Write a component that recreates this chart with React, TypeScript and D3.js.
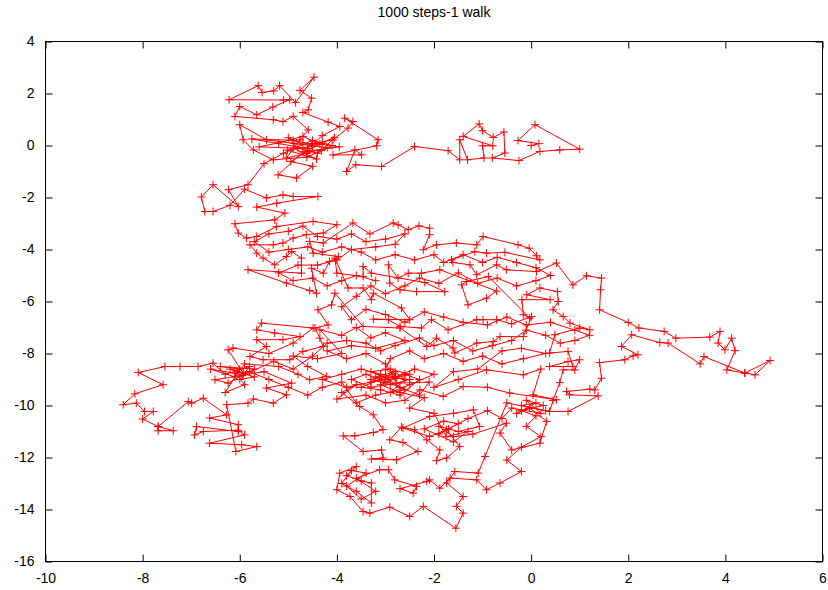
import React, { useEffect, useRef } from 'react';
import * as d3 from 'd3';

const title = '1000 steps-1 walk';
const xTicks = [-10, -8, -6, -4, -2, 0, 2, 4, 6];
const yTicks = [4, 2, 0, -2, -4, -6, -8, -10, -12, -14, -16];

// walk positions, in walk order
const walkNorth: [number, number][] = [
  [0, 0], [0.16, 0.07], [-0.27, 0.19], [0.08, 0.8], [1.0, -0.14], [0.59, -0.17], [0.18, -0.23], [-0.25, -0.58],
  [-0.8, -0.48], [-0.54, -0.29], [-0.56, 0.52], [-0.78, 0.31], [-1.0, 0.57], [-1.07, 0.83], [-1.4, 0.35], [-0.79, -0.01],
  [-1.0, -0.01], [-0.97, -0.48], [-1.31, -0.55], [-1.47, 0.22], [-1.47, -0.55], [-1.71, -0.2], [-2.4, -0.04], [-3.08, -0.81],
  [-3.61, -0.74], [-3.8, -1.0], [-3.63, -0.17], [-3.49, -0.36], [-4.08, -0.36], [-3.18, -0.01], [-3.15, 0.22], [-3.84, 1.05],
  [-3.67, 0.92], [-3.77, 0.67], [-4.08, 0.22], [-4.52, 0.05], [-4.9, 0.2], [-5.75, 0.25], [-4.6, -0.12], [-4.3, 0.38],
  [-3.94, 0.73], [-4.18, 0.9], [-4.7, 1.27], [-4.59, 1.37], [-4.52, 1.82], [-4.76, 2.12], [-4.47, 2.63], [-4.85, 1.65],
  [-5.18, 2.3], [-5.3, 2.1], [-5.54, 2.04], [-5.62, 2.3], [-6.22, 1.76], [-5.1, 1.75], [-4.97, 1.76], [-5.32, 1.48],
  [-5.65, 1.18], [-6.0, 1.5], [-6.1, 1.12], [-5.31, 0.99], [-5.11, 0.92], [-4.9, 1.12], [-4.59, 0.6], [-4.76, 0.22],
  [-5.04, -0.48], [-4.62, -0.3], [-4.2, -0.08], [-4.88, 0.08], [-5.45, 0.22], [-6.0, 0.8], [-5.93, 0.22], [-5.72, -0.17],
  [-5.31, -0.55], [-4.62, -0.45], [-4.32, -0.2], [-4.05, 0.3], [-4.5, -0.02], [-5.02, -0.18], [-4.42, -0.52], [-4.9, -0.1],
  [-5.6, -0.05], [-5.2, 0.1], [-4.7, 0.35], [-4.35, 0.05], [-3.95, -0.05], [-4.7, -0.25], [-5.21, -1.13], [-4.83, -1.25],
  [-4.5, -0.8], [-4.95, -0.62], [-4.6, -0.2], [-4.3, 0.1], [-4.7, 0.05], [-5.0, 0.3], [-4.8, -0.1], [-4.4, -0.3],
  [-4.1, 0.0], [-4.5, 0.2], [-5.1, -0.3], [-5.5, -0.7], [-5.83, -1.51], [-6.23, -1.7], [-6.03, -2.35], [-6.55, -1.51],
  [-6.79, -1.98], [-6.72, -2.54], [-6.55, -2.54], [-6.2, -2.3], [-5.9, -1.68], [-5.45, -2.02], [-5.11, -1.9], [-4.9, -1.96],
  [-4.39, -1.96], [-5.24, -2.22], [-5.65, -2.37], [-5.07, -2.6], [-5.28, -2.86], [-6.1, -3.01],
];

const walkUpper: [number, number][] = [
  [-6.03, -3.37], [-5.86, -3.56], [-5.65, -3.5], [-5.24, -3.12], [-4.49, -2.92], [-4.0, -3.05], [-4.28, -3.37], [-4.63, -3.43],
  [-4.9, -3.56], [-5.11, -3.75], [-5.31, -3.82], [-5.79, -3.82], [-5.65, -4.14], [-5.52, -4.33], [-5.28, -4.59], [-5.04, -4.27],
  [-4.93, -4.08], [-4.73, -4.33], [-4.73, -4.91], [-5.83, -4.78], [-5.04, -5.29], [-4.56, -5.58], [-4.42, -5.68], [-4.52, -4.72],
  [-4.28, -4.91], [-4.15, -4.46], [-3.97, -4.27], [-4.49, -4.14], [-4.56, -3.69], [-4.28, -3.75], [-3.67, -2.98], [-3.32, -3.4],
  [-2.84, -2.98], [-2.74, -3.05], [-2.53, -3.24], [-2.31, -3.09], [-2.09, -3.18], [-2.09, -3.43], [-2.22, -4.01], [-1.95, -3.82],
  [-1.54, -3.75], [-1.12, -3.82], [-0.99, -3.5], [-0.27, -3.82], [-0.04, -3.95], [0.11, -4.24], [0.18, -4.4], [-0.54, -4.11],
  [-0.92, -4.14], [-1.16, -4.08], [-1.64, -4.4], [-1.61, -4.5], [-1.26, -4.59], [-1.12, -4.97], [-0.71, -4.59], [-0.51, -4.78],
  [0.11, -4.85], [0.52, -4.52], [0.86, -5.36], [1.14, -5.01], [1.45, -5.1], [1.43, -5.55], [1.41, -6.32],
  [2.0, -6.81], [2.22, -7.02], [2.74, -7.15], [2.98, -7.41], [3.68, -7.37], [3.89, -7.15], [3.85, -7.6], [3.99, -7.86],
  [4.13, -7.41], [4.2, -7.89], [4.03, -8.63], [4.4, -8.75], [4.61, -8.82], [4.92, -8.27], [4.4, -8.75], [3.56, -8.12],
  [3.48, -8.4], [2.82, -7.6], [2.65, -7.58], [2.07, -7.28], [1.86, -7.73], [2.2, -8.05], [2.1, -8.09], [1.93, -8.24],
  [1.41, -8.35], [1.45, -8.95], [1.31, -9.4], [1.21, -9.37], [0.73, -9.46], [0.79, -9.59], [1.38, -9.63], [0.76, -10.23],
  [0.38, -10.23], [0.45, -9.81], [0.59, -9.12], [0.66, -8.63], [0.9, -8.63], [1.0, -8.24], [0.76, -8.31], [0.38, -8.5],
  [0.86, -8.5], [0.76, -7.92], [0.38, -7.98], [0.49, -7.28], [1.0, -7.02], [1.21, -7.09], [0.8, -6.83], [0.66, -6.58],
  [0.45, -6.32], [0.56, -6.0], [0.54, -5.62], [0.18, -5.48], [-0.09, -5.74], [0.39, -5.93], [-0.19, -5.93], [-0.16, -6.51],
  [-0.03, -6.64], [-0.88, -5.04], [-1.33, -5.23], [-1.43, -5.36], [-1.3, -6.13], [-0.92, -5.87], [-0.71, -5.6], [-1.88, -4.78],
  [-2.26, -4.91], [-2.53, -4.91], [-2.74, -5.1], [-2.94, -4.59], [-2.91, -5.29], [-2.7, -5.55], [-2.36, -5.62], [-1.78, -5.62],
  [-2.19, -5.27], [-3.29, -4.91], [-3.46, -4.65], [-3.46, -5.04], [-4.0, -4.91], [-4.04, -4.33], [-3.77, -5.48], [-3.46, -5.48],
  [-3.29, -5.93], [-3.25, -5.68], [-2.67, -6.25], [-2.5, -6.7], [-3.25, -6.68], [-2.94, -6.7], [-2.7, -6.96], [-2.26, -7.02],
  [-2.05, -6.7], [-1.71, -7.09], [-1.12, -6.7], [-0.99, -6.7], [-0.71, -6.7], [-0.4, -6.86], [0.01, -6.58], [-0.16, -7.35],
  [-0.64, -7.35], [-0.78, -7.54], [-1.12, -7.6], [-1.57, -7.98], [-1.61, -7.79], [-1.95, -7.41], [-2.15, -7.73], [-2.7, -7.02],
  [-3.46, -6.96], [-4.04, -5.68], [-4.11, -6.13], [-4.39, -6.32], [-4.18, -6.9], [-4.45, -7.02], [-4.35, -7.41], [-4.28, -7.73],
];

const walkCentral: [number, number][] = [
  [-4.7, -7.92], [-4.97, -8.24], [-5.52, -8.24], [-5.79, -8.12], [-5.45, -7.73], [-5.65, -7.47], [-5.11, -7.47], [-4.76, -7.35],
  [-5.28, -7.21], [-5.65, -7.09], [-5.55, -6.83], [-4.49, -7.02], [-4.9, -7.6], [-5.4, -8.0], [-6.14, -7.79], [-6.24, -7.86],
  [-5.93, -8.75], [-6.2, -8.6], [-5.7, -8.9], [-6.0, -9.0], [-5.8, -8.5], [-6.3, -8.8], [-6.55, -8.37], [-6.86, -8.5],
  [-7.23, -8.5], [-7.54, -8.5], [-8.09, -8.73], [-7.58, -9.2], [-8.16, -9.55], [-8.4, -9.97], [-8.13, -9.91], [-7.96, -10.23],
  [-7.78, -10.23], [-8.0, -10.52], [-7.68, -10.81], [-7.68, -10.97], [-7.37, -10.97], [-7.68, -10.81], [-7.06, -9.85], [-6.99, -9.91],
  [-6.75, -9.72], [-6.27, -10.36], [-6.62, -10.48], [-6.03, -10.74], [-6.03, -11.0], [-6.89, -10.81], [-6.93, -11.13], [-6.75, -11.0],
  [-6.03, -10.95], [-5.9, -11.13], [-6.62, -11.45], [-5.96, -11.51], [-5.65, -11.58], [-6.08, -11.77], [-6.27, -9.97], [-5.83, -9.91],
  [-5.72, -9.75], [-5.31, -9.91], [-5.04, -9.59], [-5.45, -9.33], [-4.93, -9.14], [-5.5, -8.7], [-6.51, -9.01], [-6.24, -9.14],
  [-5.93, -8.82], [-6.6, -8.6], [-6.1, -8.9], [-5.9, -8.4], [-5.2, -8.5], [-4.8, -8.8], [-4.56, -9.01], [-4.21, -8.88],
  [-4.6, -8.5], [-4.9, -8.1], [-4.4, -8.2], [-3.9, -8.0], [-4.35, -7.09], [-3.9, -7.3], [-3.6, -7.0], [-3.3, -7.4],
  [-3.0, -7.2], [-2.6, -7.5], [-3.2, -7.8], [-3.7, -7.7], [-4.2, -7.9], [-3.8, -8.2], [-3.4, -8.0], [-3.0, -8.4],
  [-2.8, -8.9], [-3.1, -8.8], [-3.5, -8.6], [-3.9, -8.8], [-4.3, -9.0], [-3.8, -9.3], [-3.3, -9.1], [-2.8, -8.9],
  [-2.4, -8.6], [-2.0, -8.8], [-2.5, -9.2], [-2.9, -9.5], [-2.6, -9.0], [-2.8, -8.7], [-3.2, -8.9], [-2.7, -9.3],
  [-2.3, -9.6], [-2.1, -9.1], [-2.77, -9.14], [-3.3, -9.3], [-3.7, -9.0], [-3.4, -8.8], [-3.0, -9.1], [-2.6, -8.8],
  [-2.3, -9.0], [-2.7, -9.6], [-3.1, -9.4], [-3.5, -9.3], [-3.0, -8.9], [-2.5, -9.0], [-2.9, -9.2], [-3.3, -9.0],
  [-2.85, -8.8], [-3.0, -8.6], [-2.9, -8.2], [-2.5, -7.9], [-2.2, -8.2], [-1.8, -8.0], [-1.4, -8.3], [-1.0, -8.1],
  [-0.6, -8.4], [-0.16, -8.2], [0.3, -8.0], [-0.2, -7.8], [-0.6, -7.9], [-1.1, -8.6], [-1.6, -8.7], [-2.0, -9.3],
  [-1.5, -9.0], [-0.92, -8.63], [-0.16, -8.82], [0.2, -8.6], [0.04, -9.59], [0.52, -9.78], [-0.44, -9.52], [-0.9, -9.3],
  [-1.4, -9.27], [-1.81, -9.65], [-2.29, -9.4], [-2.6, -9.8], [-3.0, -9.9], [-3.4, -9.6], [-4.0, -9.75], [-3.6, -9.2],
  [-3.9, -9.5], [-3.53, -10.04],
];

const walkSouth: [number, number][] = [
  [-3.25, -10.36], [-3.05, -10.93], [-3.25, -11.04], [-3.63, -11.17], [-3.87, -11.17], [-3.46, -11.77], [-3.08, -11.71], [-3.05, -12.02],
  [-3.29, -12.06], [-2.77, -12.09], [-2.33, -11.77], [-2.64, -11.42], [-2.91, -11.32], [-2.67, -10.83], [-2.4, -10.93], [-2.15, -11.32],
  [-1.88, -11.71], [-1.95, -12.12], [-1.74, -12.02], [-1.47, -11.58], [-1.74, -10.93], [-2.09, -11.19], [-2.64, -10.87], [-2.09, -10.42],
  [-1.6, -10.3], [-1.19, -10.17], [-1.06, -10.81], [-1.5, -11.0], [-1.9, -10.8], [-1.6, -11.2], [-1.2, -11.1], [-0.51, -10.68],
  [-0.64, -11.06], [-0.4, -11.71], [0.18, -11.45], [0.32, -10.61], [-0.03, -10.1], [-0.3, -10.3], [0.1, -9.9], [-0.2, -10.0],
  [0.3, -10.2], [-0.5, -9.9], [-0.95, -11.96], [-1.09, -12.6], [-1.57, -12.54], [-1.74, -12.98], [-1.4, -13.5], [-1.54, -13.88],
  [-1.4, -14.14], [-1.55, -14.72], [-2.22, -13.88], [-2.5, -14.27], [-2.91, -13.91], [-3.32, -14.14], [-3.46, -14.08], [-3.73, -13.5],
  [-4.0, -13.24], [-3.94, -12.6], [-3.6, -12.35], [-3.8, -12.7], [-3.5, -12.9], [-3.29, -12.98], [-3.29, -13.75], [-3.6, -13.3],
  [-3.9, -13.0], [-3.7, -12.5], [-3.4, -12.6], [-3.8, -13.1], [-3.5, -13.6], [-3.2, -13.3], [-3.6, -12.8], [-3.12, -12.47],
  [-2.94, -12.47], [-2.81, -12.86], [-2.36, -13.11], [-2.43, -13.37], [-2.7, -13.2], [-2.15, -12.92], [-2.09, -12.86], [-1.88, -13.18],
  [-1.67, -12.79], [-1.12, -12.86], [-0.92, -13.24], [-0.64, -12.98], [-0.2, -12.54],
];

const walkReturn: [number, number][] = [
  [-0.5, -12.1], [-0.2, -11.6], [0.2, -11.2], [-0.1, -10.8], [0.1, -10.4], [-0.2, -10.2], [0.25, -10.0], [-0.1, -9.8],
  [0.2, -10.3], [-0.4, -10.1], [-0.6, -10.5], [-0.9, -10.2], [-1.3, -10.5], [-1.7, -10.9], [-1.9, -11.1], [-1.5, -10.7],
  [-1.8, -10.6], [-2.2, -10.9], [-1.6, -11.4], [-1.3, -11.0], [-1.75, -11.2], [-2.0, -10.3], [-2.5, -10.1], [-2.2, -9.7],
  [-2.7, -9.5], [-3.1, -9.2], [-2.8, -8.95], [-2.5, -8.8], [-2.9, -8.6], [-3.3, -8.7], [-2.95, -9.0], [-2.6, -9.4],
  [-3.2, -9.6], [-3.6, -9.9], [-3.9, -9.1], [-4.3, -9.3], [-4.6, -9.6], [-5.0, -9.3], [-5.4, -9.0], [-5.8, -8.7],
  [-6.1, -8.75], [-5.9, -9.2], [-6.3, -9.5], [-6.0, -8.6], [-6.4, -8.5], [-5.7, -8.6], [-5.95, -8.85], [-5.3, -8.3],
  [-4.9, -8.6], [-4.5, -8.1], [-4.2, -7.6], [-3.8, -7.5], [-3.4, -7.6], [-3.1, -7.9], [-2.8, -7.7], [-2.3, -7.4],
  [-2.0, -7.7], [-1.6, -7.5], [-1.2, -7.9], [-0.8, -7.7], [-0.4, -7.5], [-0.1, -7.1], [0.3, -7.3], [0.6, -7.6],
  [0.9, -7.5], [1.2, -7.3], [0.9, -7.1], [0.4, -6.8], [-0.1, -6.9], [-0.5, -6.6], [-0.9, -6.9], [-1.4, -6.8],
  [-1.8, -6.6], [-2.2, -6.4], [-2.6, -6.8], [-3.0, -6.5], [-3.4, -6.3], [-3.7, -6.7], [-3.9, -6.2], [-3.6, -5.8],
  [-3.3, -5.4], [-3.0, -5.7], [-2.6, -5.4], [-2.3, -5.1], [-1.9, -5.3], [-1.5, -4.9], [-1.1, -5.3], [-0.7, -5.1],
  [-0.3, -5.4], [0.1, -5.2], [0.4, -5.0], [0.1, -4.7], [-0.3, -4.5], [-0.7, -4.3], [-1.0, -4.5], [-1.4, -4.2],
  [-1.8, -4.5], [-2.0, -4.2], [-2.4, -4.4], [-2.8, -4.2], [-3.2, -4.4], [-3.5, -4.1], [-3.9, -3.9], [-4.3, -4.1],
  [-4.6, -3.9], [-5.0, -4.0], [-5.4, -4.1], [-5.7, -3.7], [-5.4, -3.4], [-5.0, -3.3], [-4.7, -3.1], [-4.4, -3.5],
  [-4.0, -3.6], [-3.7, -3.4], [-3.4, -3.7], [-3.0, -3.6], [-2.6, -3.4], [-2.8, -3.8], [-3.2, -3.9], [-3.7, -4.0],
  [-4.0, -4.4], [-4.4, -4.6], [-4.8, -4.6], [-5.2, -4.9], [-4.9, -5.2], [-4.5, -5.1], [-4.2, -5.4], [-3.9, -5.2],
  [-3.6, -5.0], [-3.2, -5.2],
];

const walk = [...walkNorth, ...walkUpper, ...walkCentral, ...walkSouth, ...walkReturn];

export default function App() {
  const svgRef = useRef<SVGSVGElement>(null);

  useEffect(() => {
    if (!svgRef.current) return;
    const svg = d3.select(svgRef.current);
    svg.selectAll('*').remove();

    const left = 45.5, right = 822.5, top = 41.5, bottom = 561.5;
    const x = d3.scaleLinear().domain([-10, 6]).range([left, right]);
    const y = d3.scaleLinear().domain([-16, 4]).range([bottom, top]);
    const font = 'Liberation Sans, Arial, sans-serif';

    // title
    svg.append('text')
      .attr('x', (left + right) / 2)
      .attr('y', 17)
      .attr('text-anchor', 'middle')
      .style('font-family', font)
      .style('font-size', '14px')
      .text(title);

    // the walk
    const line = d3.line<[number, number]>().x(d => x(d[0])).y(d => y(d[1]));
    svg.append('path')
      .attr('d', line(walk))
      .attr('fill', 'none')
      .attr('stroke', '#ff0000')
      .attr('stroke-width', 1);

    const crosses = walk
      .map(d => {
        const px = x(d[0]), py = y(d[1]);
        return `M${px - 4},${py}h8M${px},${py - 4}v8`;
      })
      .join('');
    svg.append('path')
      .attr('d', crosses)
      .attr('fill', 'none')
      .attr('stroke', '#ff0000')
      .attr('stroke-width', 1);

    // axes, ticks pointing inward and mirrored
    const styleAxis = (g: d3.Selection<SVGGElement, unknown, null, undefined>) => {
      g.select('.domain').remove();
      g.selectAll('line').attr('stroke', '#000');
      g.selectAll('text')
        .style('font-family', font)
        .style('font-size', '14px')
        .attr('fill', '#000');
    };
    const label = (d: d3.NumberValue) => String(d);

    svg.append('g')
      .attr('transform', `translate(0,${bottom})`)
      .call(d3.axisBottom(x).tickValues(xTicks).tickSize(-7).tickPadding(12).tickFormat(label))
      .call(styleAxis);
    svg.append('g')
      .attr('transform', `translate(0,${top})`)
      .call(d3.axisTop(x).tickValues(xTicks).tickSize(-7).tickFormat(() => ''))
      .call(styleAxis);
    svg.append('g')
      .attr('transform', `translate(${left},0)`)
      .call(d3.axisLeft(y).tickValues(yTicks).tickSize(-7).tickPadding(11).tickFormat(label))
      .call(styleAxis);
    svg.append('g')
      .attr('transform', `translate(${right},0)`)
      .call(d3.axisRight(y).tickValues(yTicks).tickSize(-7).tickFormat(() => ''))
      .call(styleAxis);

    svg.append('rect')
      .attr('x', left)
      .attr('y', top)
      .attr('width', right - left)
      .attr('height', bottom - top)
      .attr('fill', 'none')
      .attr('stroke', '#000')
      .attr('stroke-width', 1);
  }, []);

  return (
    <svg
      ref={svgRef}
      width={828}
      height={590}
      style={{ position: 'absolute', left: 0, top: 0, background: '#fff' }}
    />
  );
}
